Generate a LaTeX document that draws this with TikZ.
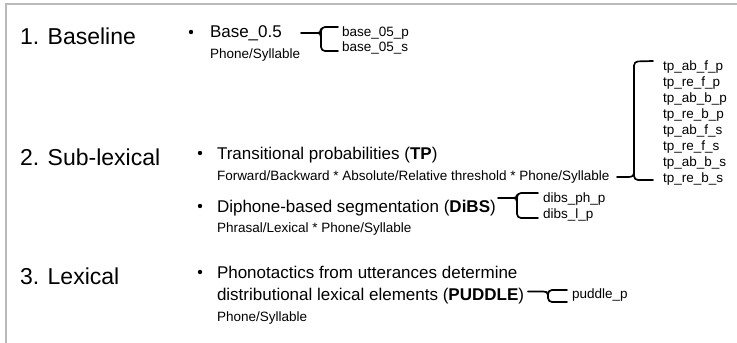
\documentclass[tikz,border=0pt]{standalone}
\usepackage{fontspec}
\setmainfont{Liberation Sans}
\begin{document}
\begin{tikzpicture}[x=1pt,y=-1pt,
  every node/.style={inner sep=0pt, outer sep=0pt, anchor=base west},
  heading/.style={font=\fontsize{23}{27}\selectfont},
  item/.style={font=\fontsize{17}{22}\selectfont},
  note/.style={font=\fontsize{13.5}{16}\selectfont},
  outname/.style={font=\fontsize{13.5}{16}\selectfont},
  dot/.style={circle, fill=black, minimum size=4.4pt, anchor=center},
  brace/.style={line width=1.7pt, black, rounded corners=4pt, line cap=round},
  frameline/.style={draw=black!27, line width=1.3pt}]

\useasboundingbox (0,0) rectangle (737,343);
% frame along the top and left edge
\draw[frameline] (6,343) -- (6,4) -- (737,4);

% section headings
\node[heading] (h1) at (20,44)  {1. Baseline};
\node[heading] (h2) at (20,165) {2. Sub-lexical};
\node[heading] (h3) at (20,284) {3. Lexical};

% bullets
\node[dot] (d1) at (191,32)  {};
\node[dot] (d2) at (200,153) {};
\node[dot] (d3) at (200,206) {};
\node[dot] (d4) at (200,272) {};

% models and their parameters
\node[item] (base)    at (210,37)  {Base\_0.5};
\node[note] (basesub) at (210,58)  {Phone/Syllable};
\node[item] (tp)      at (217,159) {Transitional probabilities (\textbf{TP})};
\node[note] (tpsub)   at (217,180) {Forward/Backward * Absolute/Relative threshold * Phone/Syllable};
\node[item] (dibs)    at (217,212) {Diphone-based segmentation (\textbf{DiBS})};
\node[note] (dibssub) at (217,232) {Phrasal/Lexical * Phone/Syllable};
\node[item] (pud1)    at (217,278) {Phonotactics from utterances determine};
\node[item] (pud)     at (217,300) {distributional lexical elements (\textbf{PUDDLE})};
\node[note] (pudsub)  at (217,321) {Phone/Syllable};

% output variants
\node[outname] (bp) at (342,36) {base\_05\_p};
\node[outname] (bs) at (342,51) {base\_05\_s};
\foreach \n [count=\i from 0] in {ab\_f\_p,re\_f\_p,ab\_b\_p,re\_b\_p,ab\_f\_s,re\_f\_s,ab\_b\_s,re\_b\_s}
  \node[outname] (tp\i) at (663,70.5+16*\i) {tp\_\n};
\node[outname] (dp) at (543,202) {dibs\_ph\_p};
\node[outname] (dl) at (543,218) {dibs\_l\_p};
\node[outname] (pp) at (572,298) {puddle\_p};

% brace: Base_0.5
\coordinate (bS) at (301,33);
\draw[brace] (338,27) -- (321,27) -- (321,51) -- (338,51);
\draw[brace, rounded corners=0pt] (bS) -- (316,33) .. controls (320,33) and (321,32) .. (321,29);
\draw[brace, rounded corners=0pt] (316,33) .. controls (320,33) and (321,34) .. (321,37);

% brace: TP
\coordinate (tS) at (617,177);
\draw[brace] (653,61) -- (634,61.5) -- (634,180) -- (653,180);
\draw[brace, rounded corners=0pt] (tS) -- (628,177) .. controls (632,177) and (634,176) .. (634,172);

% brace: DiBS
\coordinate (dS) at (498,198);
\draw[brace] (538,193) -- (517,193) -- (517,218) -- (538,218);
\draw[brace, rounded corners=0pt] (dS) -- (512,198) .. controls (516,198) and (517,197) .. (517,195);
\draw[brace, rounded corners=0pt] (512,198) .. controls (516,198) and (517,199) .. (517,202);

% brace: PUDDLE
\coordinate (pS) at (528,291.5);
\draw[brace] (567,290) -- (548,290) -- (548,302) -- (567,302);
\draw[brace, rounded corners=0pt] (pS) -- (543,291.5) .. controls (546,291.5) and (548,292) .. (548,295);
\end{tikzpicture}
\end{document}
